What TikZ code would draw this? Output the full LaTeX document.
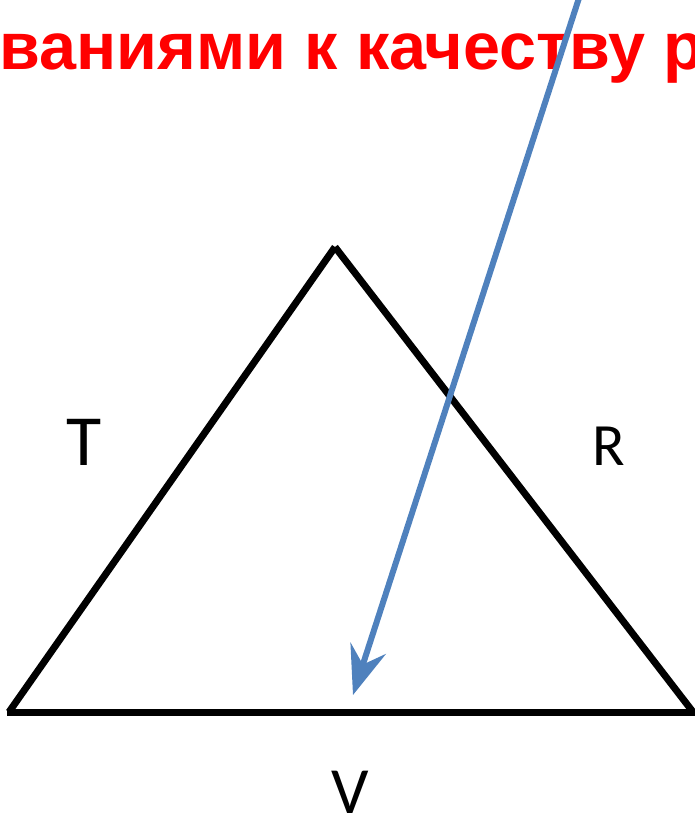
\documentclass[tikz,border=0pt]{standalone}
\usepackage{fontspec}
\setmainfont{Carlito}
\newfontfamily\headfont{Liberation Sans}
\usetikzlibrary{arrows.meta}
\definecolor{ablue}{RGB}{79,129,189}
\definecolor{hred}{RGB}{255,0,0}
\begin{document}
\begin{tikzpicture}[x=1pt,y=-1pt,
  side/.style={line width=7pt,black,line cap=butt},
  ray/.style={line width=6pt,ablue,-{Stealth[length=49pt,width=37pt,inset=17pt]}},
  lbl/.style={anchor=base,inner sep=0pt,text=black},
  head/.style={anchor=base west,inner sep=0pt,text=hred,font=\headfont\bfseries\fontsize{66.5}{70}\selectfont}]
\useasboundingbox (0,0) rectangle (695,815);
\clip (0,0) rectangle (695,815);
\node[head] (title) at (-1,69) {ваниями к качеству решения};
\coordinate (top) at (335,247);
\coordinate (bl) at (9,712);
\coordinate (br) at (693,712);
\coordinate (blx) at (7,712);
\coordinate (brx) at (700,712);
\draw[side] (bl) -- (top);
\draw[side] (top) -- (br);
\draw[side] (blx) -- (brx);
\coordinate (rs) at (579,-2);
\coordinate (rt) at (353,695);
\draw[ray] (rs) -- (rt);
\node[lbl,font=\fontsize{72}{80}\selectfont] (T) at (84,465) {T};
\node[lbl,font=\fontsize{60}{70}\selectfont] (R) at (609,465) {R};
\node[lbl,font=\fontsize{66}{70}\selectfont] (V) at (350,813) {V};
\end{tikzpicture}
\end{document}
